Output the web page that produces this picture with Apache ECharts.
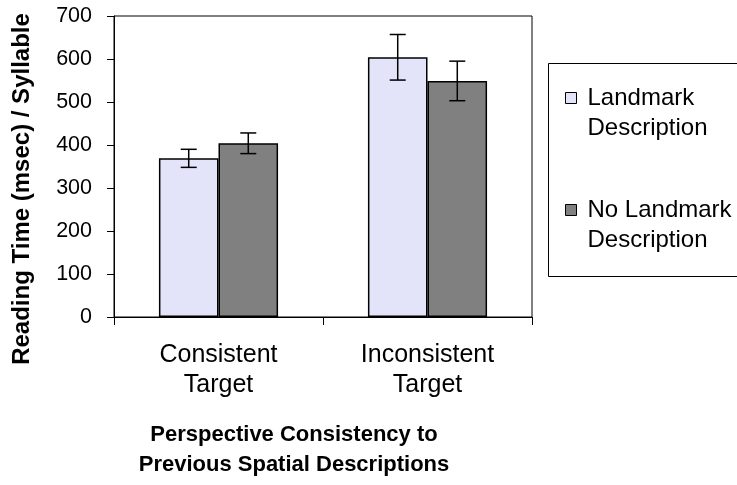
<!DOCTYPE html>
<html>
<head>
<meta charset="utf-8">
<script src="https://cdn.jsdelivr.net/npm/echarts@6/dist/echarts.min.js"></script>
<style>
  html, body { margin: 0; padding: 0; background: #fff; }
  #chart { width: 737px; height: 485px; }
</style>
</head>
<body>
<div id="chart"></div>
<script>
// ---- data ----
const categories = ['Consistent\nTarget', 'Inconsistent\nTarget'];
const seriesNames = ['Landmark Description', 'No Landmark Description'];
const landmark = [369, 604];
const landmarkErr = [21, 53];
const noLandmark = [404, 549];
const noLandmarkErr = [24, 46];
const yTicks = [0, 100, 200, 300, 400, 500, 600, 700];

const FONT = "'Liberation Sans', Arial, sans-serif";
const BAR_FRAC = 0.285; // bar width as fraction of category width
const colors = ['#E3E3FA', '#808080'];

function errData(vals, errs, idx) {
  return vals.map((v, i) => [i, v, errs[i], idx]);
}

function renderErr(params, api) {
  const cat = api.value(0), v = api.value(1), e = api.value(2), idx = api.value(3);
  const catW = api.size([1, 0])[0];
  const bw = catW * BAR_FRAC;
  const cx = api.coord([cat, v])[0] + (idx === 0 ? -bw / 2 : bw / 2);
  const top = api.coord([cat, v + e])[1];
  const bot = api.coord([cat, v - e])[1];
  const cap = 8;
  const style = { stroke: '#000', lineWidth: 1.5 };
  return {
    type: 'group',
    children: [
      { type: 'line', shape: { x1: cx, y1: top, x2: cx, y2: bot }, style },
      { type: 'line', shape: { x1: cx - cap, y1: top, x2: cx + cap, y2: top }, style },
      { type: 'line', shape: { x1: cx - cap, y1: bot, x2: cx + cap, y2: bot }, style }
    ]
  };
}

const chart = echarts.init(document.getElementById('chart'), null, { renderer: 'canvas' });
chart.setOption({
  animation: false,
  backgroundColor: '#fff',
  textStyle: { fontFamily: FONT, color: '#000' },
  grid: {
    left: 114, right: 205, top: 16, bottom: 168,
    show: true, borderColor: '#000', borderWidth: 1, backgroundColor: 'transparent',
    containLabel: false, outerBoundsMode: 'none'
  },
  legend: {
    data: seriesNames,
    orient: 'vertical',
    left: 565, top: 53,
    padding: 0,
    itemGap: 22,
    itemWidth: 11, itemHeight: 11,
    icon: 'rect',
    itemStyle: { borderColor: '#000', borderWidth: 1 },
    selectedMode: false,
    // blank first line so the first text line sits level with the marker
    formatter: name => ' \n' + name.replace(/ (Description)$/, '\n$1'),
    textStyle: { fontFamily: FONT, fontSize: 24, lineHeight: 30, color: '#000', padding: [0, 0, 0, 6] }
  },
  graphic: [
    { type: 'rect', silent: true, z: 100,
      shape: { x: 548.5, y: 63.5, width: 260, height: 213 },
      style: { fill: 'none', stroke: '#000', lineWidth: 1 } }
  ],
  xAxis: {
    type: 'category',
    data: categories,
    axisLine: { show: true, lineStyle: { color: '#000', width: 1 } },
    axisTick: { show: true, length: 8, lineStyle: { color: '#000' } },
    axisLabel: { interval: 0, fontFamily: FONT, fontSize: 25, lineHeight: 30, margin: 23, color: '#000' },
    name: 'Perspective Consistency to\nPrevious Spatial Descriptions',
    nameLocation: 'middle',
    nameGap: 103,
    nameTextStyle: { fontFamily: FONT, fontWeight: 'bold', fontSize: 22, lineHeight: 30, color: '#000', padding: [0, 58, 0, 0] }
  },
  yAxis: {
    type: 'value',
    min: yTicks[0], max: yTicks[yTicks.length - 1], interval: 100,
    axisLine: { show: true, lineStyle: { color: '#000', width: 1 } },
    axisTick: { show: true, length: 7, lineStyle: { color: '#000' } },
    splitLine: { show: false },
    axisLabel: { fontFamily: FONT, fontSize: 21.5, margin: 22, color: '#000' },
    name: 'Reading Time (msec) / Syllable',
    nameLocation: 'middle',
    nameGap: 80,
    nameTextStyle: { fontFamily: FONT, fontWeight: 'bold', fontSize: 24, color: '#000', padding: [0, 45, 0, 0] }
  },
  series: [
    {
      name: seriesNames[0], type: 'bar', data: landmark,
      barGap: '0%', barCategoryGap: '43%',
      itemStyle: { color: colors[0], borderColor: '#000', borderWidth: 1.5 }
    },
    {
      name: seriesNames[1], type: 'bar', data: noLandmark,
      barGap: '0%', barCategoryGap: '43%',
      itemStyle: { color: colors[1], borderColor: '#000', borderWidth: 1.5 }
    },
    {
      type: 'custom', name: 'err1', renderItem: renderErr, z: 10,
      data: errData(landmark, landmarkErr, 0), encode: { x: 0, y: 1 }
    },
    {
      type: 'custom', name: 'err2', renderItem: renderErr, z: 10,
      data: errData(noLandmark, noLandmarkErr, 1), encode: { x: 0, y: 1 }
    }
  ]
});
</script>
</body>
</html>
